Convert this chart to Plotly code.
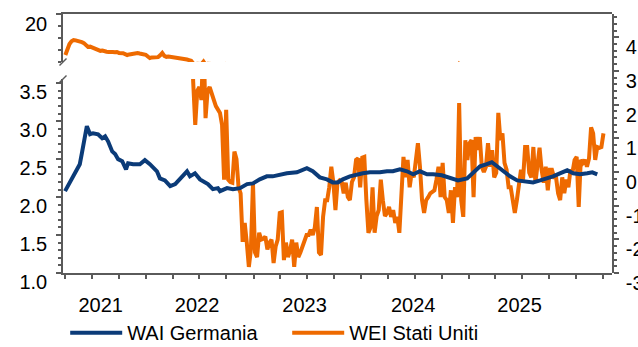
import pandas as pd
import plotly.graph_objects as go

# ---- data -------------------------------------------------------------
# WEI Stati Uniti: weekly readings starting from this Friday
wei_start = "2021-04-02"
wei_values = [
    6.3, 8.5, 10.0, 10.9, 11.3, 11.2, 11.0, 11.1, 10.6, 10.3,
    9.6, 9.0, 9.1, 8.8, 8.7, 8.5, 8.2, 7.7, 7.8, 7.5,
    7.4, 7.3, 7.4, 7.3, 7.2, 7.3, 7.0, 7.1, 6.9, 6.6,
    6.3, 6.5, 6.7, 6.7, 6.9, 7.0, 6.8, 6.7, 6.7, 6.4,
    5.8, 5.3, 5.5, 5.6, 5.7, 5.6, 6.2, 7.0, 6.0, 5.7,
    5.8, 5.7, 5.7, 5.6, 5.5, 5.4, 5.3, 5.3, 5.1, 4.8,
    4.6, 4.4,
    3.52, 2.95, 3.40, 3.45, 3.28, 4.10, 3.04, 3.40, 3.45, 3.38,
    3.28, 3.20, 3.15, 3.11, 2.95, 2.23, 3.15, 2.23, 2.20, 2.19,
    2.60, 2.50, 2.13, 2.05, 1.41, 1.66, 1.40, 1.08, 1.31, 2.19,
    1.27, 1.21, 1.53, 1.44, 1.45, 1.48, 1.31, 1.40, 1.44, 1.13,
    1.35, 1.44, 1.79, 1.80, 1.17, 1.40, 1.21, 1.30, 1.44, 1.08,
    1.40, 1.21, 1.27, 1.35, 1.44, 1.50, 1.50, 1.57, 1.50, 1.60,
    1.87, 1.27, 1.24, 1.74, 1.96, 1.96, 2.13, 2.40, 2.19, 1.83,
    2.19, 2.22, 2.20, 2.05, 2.19, 2.00, 1.96, 2.20, 2.26, 2.49,
    2.51, 2.13, 2.52, 2.53, 1.96, 1.53, 1.60, 2.13, 1.53, 1.75,
    1.83, 2.23, 1.96, 1.75, 1.79, 1.87, 1.74, 1.83, 1.66, 1.74,
    1.53, 1.96, 2.53, 2.26, 2.49, 2.13, 2.32, 2.26, 2.49, 2.71,
    2.40, 1.96, 1.79, 1.96, 2.00, 2.05, 2.07, 2.09, 2.23, 2.40,
    2.00, 2.45, 2.00, 1.96, 1.79, 2.09, 1.66, 2.13, 2.00, 3.24,
    1.96, 1.74, 2.75, 2.49, 2.71, 2.75, 2.00, 2.79, 2.62, 2.79,
    2.40, 2.33, 2.40, 2.71, 2.40, 2.62, 2.26, 2.32, 3.11, 2.75,
    2.84, 2.45, 2.36, 2.13, 2.13, 1.96, 1.79, 1.96, 2.13, 2.36,
    2.23, 2.66, 2.66, 2.32, 2.26, 2.66, 2.19, 2.40, 2.65, 2.36,
    2.19, 2.40, 2.09, 2.36, 2.36, 2.26, 2.26, 2.05, 1.96, 2.26,
    2.05, 2.23, 2.13, 2.36, 2.33, 2.49, 2.53, 1.87, 2.49, 2.45,
    2.49, 2.40, 2.51, 2.92, 2.84, 2.49, 2.66, 2.65, 2.66, 2.84,
]
wei_dates = pd.date_range(wei_start, periods=len(wei_values), freq="7D")

# WAI Germania (right axis)
wai_dates = [
    "2021-04-01", "2021-04-23", "2021-05-21", "2021-05-28", "2021-06-05", "2021-06-14",
    "2021-06-25", "2021-07-05", "2021-07-22", "2021-08-05", "2021-08-15", "2021-08-25",
    "2021-09-08", "2021-09-18", "2021-09-28", "2021-10-12", "2021-10-25", "2021-11-01",
    "2021-11-18", "2021-12-11", "2021-12-28",
    "2022-01-14", "2022-02-07", "2022-02-17", "2022-03-06", "2022-03-24", "2022-04-10",
    "2022-05-03", "2022-05-20", "2022-05-30", "2022-06-16", "2022-07-03", "2022-07-30",
    "2022-08-16", "2022-09-02", "2022-09-09", "2022-10-03", "2022-10-23", "2022-11-16",
    "2022-12-10", "2022-12-30",
    "2023-01-22", "2023-02-15", "2023-03-07", "2023-04-01", "2023-04-24", "2023-05-28",
    "2023-06-17", "2023-07-01", "2023-07-21", "2023-08-14", "2023-09-07", "2023-09-27",
    "2023-10-14", "2023-10-31", "2023-11-24", "2023-12-18",
    "2024-01-07", "2024-01-31", "2024-03-05", "2024-03-29", "2024-04-18", "2024-05-12",
    "2024-06-05", "2024-06-26", "2024-07-19", "2024-08-12", "2024-09-02", "2024-10-01",
    "2024-10-29", "2024-11-25", "2024-12-26",
    "2025-01-15", "2025-02-08", "2025-03-03", "2025-03-20", "2025-04-07", "2025-04-27",
    "2025-05-21", "2025-06-14", "2025-07-04", "2025-08-07", "2025-08-31", "2025-09-24",
    "2025-10-14", "2025-11-06", "2025-12-01", "2025-12-21",
    "2026-01-14", "2026-02-07", "2026-02-24", "2026-03-13",
]
wai_values = [
    -0.57, -0.22, 0.23, 0.55, 1.00, 1.36, 1.12, 1.15, 1.12, 1.00,
    1.06, 0.91, 0.61, 0.53, 0.38, 0.32, 0.08, 0.26, 0.23, 0.23,
    0.35,
    0.23, 0.02, -0.19, -0.25, -0.42, -0.36, -0.13, 0.02, -0.13, -0.04,
    -0.22, -0.36, -0.51, -0.48, -0.57, -0.48, -0.51, -0.48, -0.36, -0.34,
    -0.22, -0.13, -0.13, -0.07, -0.04, -0.01, 0.08, 0.11, 0.02, -0.16,
    -0.22, -0.31, -0.31, -0.22, -0.13, -0.07,
    -0.04, -0.01, -0.01, 0.02, 0.02, 0.08, 0.02, -0.07, 0.02, -0.07,
    -0.07, -0.10, -0.19, -0.25, -0.19,
    -0.04, 0.17, 0.23, 0.29, 0.17, 0.02, -0.13, -0.25, -0.28, -0.31,
    -0.25, -0.19, -0.13, -0.04, 0.05, -0.04,
    -0.07, -0.04, -0.01, -0.07,
]

# x-axis labelling
year_labels = ["2021", "2022", "2023", "2024", "2025"]
year_label_dates = ["2021-07-31", "2022-06-23", "2023-06-23", "2024-06-26", "2025-06-22"]
year_starts = ["2022-01-01", "2023-01-01", "2024-01-01", "2025-01-01", "2026-01-01"]
quarter_starts = pd.date_range("2021-04-01", "2026-04-01", freq="QS")
x_range = ["2021-03-25", "2026-05-02"]

# left axis, split into an upper and a lower band
upper_range = [4, 20.02]
lower_range = [1.0, 3.556]
lower_ticks = [1.0, 1.5, 2.0, 2.5, 3.0, 3.5]
# right axis
right_range = [-3, 4.69]
right_ticks = [-3, -2, -1, 0, 1, 2, 3, 4]

# ---- styling ----------------------------------------------------------
BLUE = "#0b3b78"
ORANGE = "#ee6a00"
AXIS = "#5a5a5a"
FONT = dict(family="Liberation Sans, Arial, sans-serif", size=20, color="#000000")
upper_dom = [0.815, 1.0]
lower_dom = [0.0, 0.749]

fig = go.Figure()

# WEI on the lower band and again on the upper band (each clipped to its band)
fig.add_trace(go.Scatter(
    x=wei_dates, y=wei_values, mode="lines", name="WEI Stati Uniti",
    line=dict(color=ORANGE, width=4), xaxis="x", yaxis="y", legendrank=2,
))
fig.add_trace(go.Scatter(
    x=wei_dates, y=wei_values, mode="lines", name="WEI Stati Uniti",
    line=dict(color=ORANGE, width=4), xaxis="x2", yaxis="y2", showlegend=False,
))
# WAI on the right-hand scale
fig.add_trace(go.Scatter(
    x=wai_dates, y=wai_values, mode="lines", name="WAI Germania",
    line=dict(color=BLUE, width=4), xaxis="x", yaxis="y3", legendrank=1,
))
# carrier for the year-label axis
fig.add_trace(go.Scatter(x=[], y=[], xaxis="x3", yaxis="y", showlegend=False,
                         hoverinfo="skip"))

axis_common = dict(showgrid=False, zeroline=False, linecolor=AXIS, linewidth=1.5,
                   tickcolor=AXIS, tickwidth=1.5, tickfont=FONT, automargin=False)

fig.update_layout(
    width=638, height=347,
    margin=dict(l=63, r=26, t=14, b=74, autoexpand=False),
    paper_bgcolor="white", plot_bgcolor="rgba(0,0,0,0)",
    font=FONT,
    showlegend=True,
    legend=dict(orientation="h", x=0.004, xanchor="left", y=-0.155, yanchor="top",
                font=FONT, traceorder="normal", entrywidth=155,
                bgcolor="rgba(0,0,0,0)", itemwidth=52),
    xaxis=dict(**axis_common, range=x_range, type="date", anchor="y",
               showline=True, ticks="outside", ticklen=7,
               tickmode="array", tickvals=year_starts, ticktext=[""] * len(year_starts),
               minor=dict(tickmode="array", tickvals=list(quarter_starts), ticks="outside",
                          ticklen=4, tickcolor=AXIS, tickwidth=1.5)),
    xaxis2=dict(**axis_common, range=x_range, type="date", anchor="y2", side="top",
                showline=True, ticks="", showticklabels=False, matches="x"),
    xaxis3=dict(**axis_common, range=x_range, type="date", anchor="y", overlaying="x",
                side="bottom", showline=False, ticks="",
                tickmode="array", tickvals=year_label_dates, ticktext=year_labels,
                ticklabelstandoff=18),
    yaxis=dict(**axis_common, domain=lower_dom, range=lower_range, anchor="x",
               showline=True, ticks="outside", ticklen=5,
               tickmode="array", tickvals=lower_ticks,
               ticktext=[f"{v:.1f}" for v in lower_ticks],
               ticklabelshift=9, ticklabelstandoff=5,
               minor=dict(dtick=0.1, tick0=1.0, ticks="outside", ticklen=3,
                          tickcolor=AXIS, tickwidth=1.5)),
    yaxis2=dict(**axis_common, domain=upper_dom, range=upper_range, anchor="x2",
                showline=True, ticks="outside", ticklen=5,
                tickmode="array", tickvals=[20], ticktext=["20"],
                ticklabelshift=10, ticklabelstandoff=5,
                minor=dict(dtick=4, tick0=0, ticks="outside", ticklen=3,
                           tickcolor=AXIS, tickwidth=1.5)),
    yaxis3=dict(**axis_common, domain=[0, 1], range=right_range, anchor="x",
                side="right", showline=True, ticks="outside", ticklen=5,
                tickmode="array", tickvals=right_ticks,
                ticktext=[str(v) for v in right_ticks],
                ticklabelshift=10, ticklabelstandoff=3,
                minor=dict(dtick=0.2, tick0=0, ticks="outside", ticklen=3,
                           tickcolor=AXIS, tickwidth=1.5)),
)

# break marks where the left axis is interrupted
for yb in (upper_dom[0], lower_dom[1]):
    fig.add_shape(type="line", xref="paper", yref="paper",
                  xsizemode="pixel", ysizemode="pixel", xanchor=0, yanchor=yb,
                  x0=-3.5, x1=3.5, y0=-3.5, y1=3.5,
                  line=dict(color=AXIS, width=1.5))

fig.write_html("out.html")
